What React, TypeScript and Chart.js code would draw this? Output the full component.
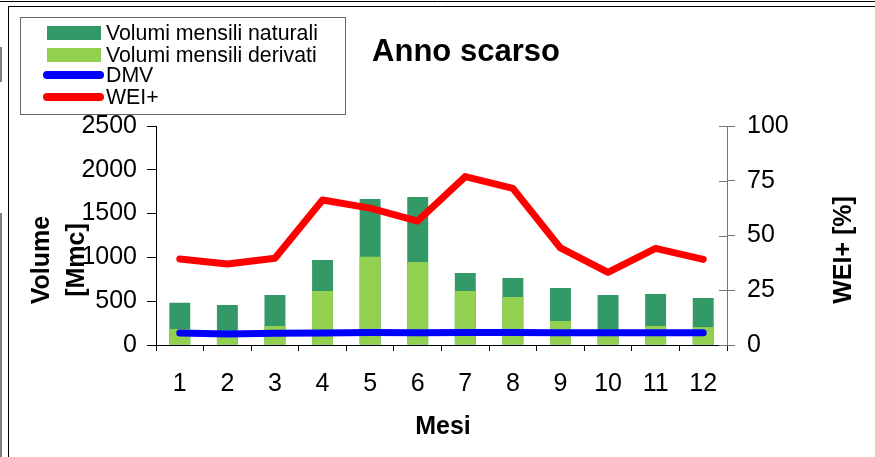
import React, { useEffect, useRef } from 'react';
import { Chart, registerables } from 'chart.js';
Chart.register(...registerables);

const FONT = "'Liberation Sans', Arial, sans-serif";

const months = ['1', '2', '3', '4', '5', '6', '7', '8', '9', '10', '11', '12'];
const naturali = [483, 457, 571, 970, 1667, 1690, 822, 765, 651, 571, 582, 537];
const derivati = [183, 120, 217, 616, 1008, 947, 616, 548, 274, 130, 217, 205];
const dmv = [137, 126, 134, 138, 143, 140, 143, 143, 140, 140, 140, 140];
const wei = [39.3, 37, 39.6, 66.2, 62.5, 56.6, 76.9, 71.5, 44.3, 33.2, 44.1, 39.1];
const volumeTicks = [0, 500, 1000, 1500, 2000, 2500];
const weiTicks = [0, 25, 50, 75, 100];

const deco = {
  id: 'deco',
  beforeDraw(chart: any) {
    const ctx = chart.ctx;
    ctx.save();
    ctx.fillStyle = '#fff';
    ctx.fillRect(0, 0, chart.width, chart.height);
    ctx.strokeStyle = '#000';
    ctx.lineWidth = 1;
    ctx.beginPath();
    ctx.moveTo(0, 1.5); ctx.lineTo(chart.width, 1.5);
    ctx.moveTo(8, 6.5); ctx.lineTo(chart.width, 6.5);
    ctx.moveTo(8.5, 6.5); ctx.lineTo(8.5, chart.height);
    ctx.moveTo(1, 47); ctx.lineTo(1, 82);
    ctx.moveTo(1, 213); ctx.lineTo(1, chart.height);
    ctx.stroke();
    ctx.restore();
  },
  afterDraw(chart: any) {
    const ctx = chart.ctx;
    const area = chart.chartArea;
    ctx.save();
    // inner ticks of the right axis
    const y1 = chart.scales.y1;
    ctx.strokeStyle = '#777';
    ctx.lineWidth = 1;
    ctx.beginPath();
    for (const v of weiTicks) {
      const py = Math.round(y1.getPixelForValue(v)) + 0.5;
      ctx.moveTo(area.right - 8, py);
      ctx.lineTo(area.right, py);
    }
    ctx.stroke();

    // title
    ctx.fillStyle = '#000';
    ctx.textAlign = 'center';
    ctx.textBaseline = 'middle';
    ctx.font = `bold 31px ${FONT}`;
    ctx.fillText('Anno scarso', 466, 52);

    // x title
    ctx.font = `bold 25px ${FONT}`;
    ctx.fillText('Mesi', 443, 427);

    // y titles
    ctx.save();
    ctx.translate(42, 260);
    ctx.rotate(-Math.PI / 2);
    ctx.fillText('Volume', 0, 0);
    ctx.restore();
    ctx.save();
    ctx.translate(77, 260);
    ctx.rotate(-Math.PI / 2);
    ctx.fillText('[Mmc]', 0, 0);
    ctx.restore();
    ctx.save();
    ctx.translate(844, 250);
    ctx.rotate(-Math.PI / 2);
    ctx.fillText('WEI+ [%]', 0, 0);
    ctx.restore();

    // legend
    ctx.fillStyle = '#fff';
    ctx.fillRect(20, 17, 325, 97);
    ctx.strokeStyle = '#666';
    ctx.lineWidth = 1;
    ctx.strokeRect(20.5, 17.5, 325, 97);
    const ds = chart.data.datasets;
    const find = (l: string) => ds.find((d: any) => d.label === l);
    const entries = ['Volumi mensili naturali', 'Volumi mensili derivati', 'DMV', 'WEI+'];
    const rowY = [33, 55, 75, 97];
    entries.forEach((lab, i) => {
      const d: any = find(lab);
      const cy = rowY[i];
      if (d.type === 'line') {
        ctx.strokeStyle = d.borderColor;
        ctx.lineWidth = 8;
        ctx.lineCap = 'round';
        ctx.beginPath();
        ctx.moveTo(47, cy);
        ctx.lineTo(100, cy);
        ctx.stroke();
      } else {
        ctx.fillStyle = d.backgroundColor;
        ctx.fillRect(47, cy - 7, 54, 14);
      }
      ctx.fillStyle = '#000';
      ctx.textAlign = 'left';
      ctx.textBaseline = 'alphabetic';
      ctx.font = `21.3px ${FONT}`;
      ctx.fillText(lab, 106, cy + 7);
    });
    ctx.restore();
  },
};

export default function App() {
  const ref = useRef<HTMLCanvasElement>(null);
  useEffect(() => {
    document.body.style.margin = '0';
    const chart = new Chart(ref.current!, {
      type: 'bar',
      data: {
        labels: months,
        datasets: [
          {
            type: 'line', label: 'DMV', data: dmv, borderColor: '#0000FF', backgroundColor: '#0000FF',
            borderWidth: 7, pointRadius: 0, yAxisID: 'y', order: 0, tension: 0,
            borderCapStyle: 'round', borderJoinStyle: 'round',
          } as any,
          {
            type: 'line', label: 'WEI+', data: wei, borderColor: '#FF0000', backgroundColor: '#FF0000',
            borderWidth: 7, pointRadius: 0, yAxisID: 'y1', order: 1, tension: 0,
            borderCapStyle: 'round', borderJoinStyle: 'round',
          } as any,
          {
            type: 'bar', label: 'Volumi mensili derivati', data: derivati, backgroundColor: '#92D050',
            grouped: false, order: 2, yAxisID: 'y', categoryPercentage: 1, barPercentage: 0.44,
          } as any,
          {
            type: 'bar', label: 'Volumi mensili naturali', data: naturali, backgroundColor: '#339966',
            grouped: false, order: 3, yAxisID: 'y', categoryPercentage: 1, barPercentage: 0.44,
          } as any,
        ],
      },
      options: {
        responsive: false,
        animation: false,
        layout: { padding: { top: 126, left: 0, right: 0, bottom: 0 } },
        plugins: { legend: { display: false }, title: { display: false }, tooltip: { enabled: false } },
        scales: {
          x: {
            offset: true,
            grid: { offset: true, drawOnChartArea: false, tickLength: 6, color: '#000' },
            border: { color: '#000', width: 1 },
            ticks: { color: '#000', font: { family: FONT, size: 25 }, padding: 18, maxRotation: 0, autoSkip: false },
            afterFit: (s: any) => { s.height = 112; },
          },
          y: {
            position: 'left', min: 0, max: 2500,
            afterBuildTicks: (s: any) => { s.ticks = volumeTicks.map((v) => ({ value: v })); },
            grid: { drawOnChartArea: false, tickLength: 9, color: '#000' },
            border: { color: '#000', width: 1 },
            ticks: { color: '#000', font: { family: FONT, size: 25 }, padding: 10, callback: (v: any) => String(v) },
            afterFit: (s: any) => { s.width = 156; },
          },
          y1: {
            position: 'right', min: 0, max: 100,
            afterBuildTicks: (s: any) => { s.ticks = weiTicks.map((v) => ({ value: v })); },
            grid: { drawOnChartArea: false, tickLength: 8, color: '#777' },
            border: { color: '#777', width: 1 },
            ticks: { color: '#000', font: { family: FONT, size: 25 }, padding: 12, callback: (v: any) => String(v) },
            afterFit: (s: any) => { s.width = 148; },
          },
        },
      } as any,
      plugins: [deco],
    });
    return () => chart.destroy();
  }, []);
  return <canvas ref={ref} width={875} height={457} style={{ display: 'block' }} />;
}
